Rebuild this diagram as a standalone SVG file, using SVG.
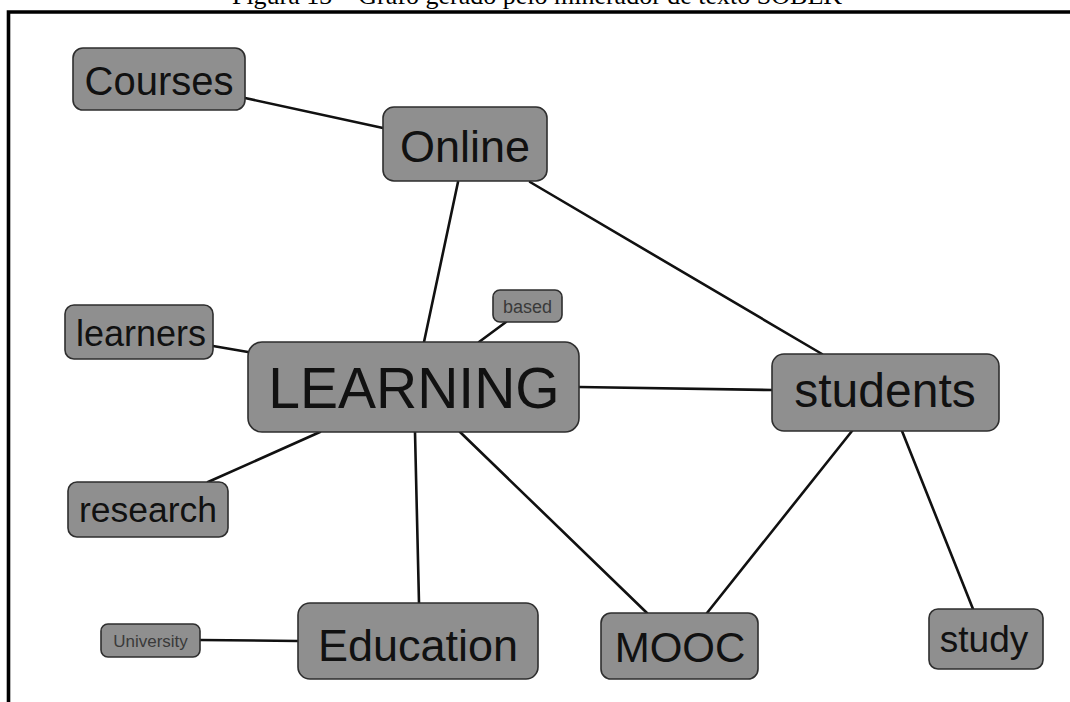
<svg xmlns="http://www.w3.org/2000/svg" width="1070" height="702" viewBox="0 0 1070 702">
  <style>
    .box { fill: #8f8f8f; stroke: #2e2e2e; stroke-width: 1.6; }
    .lbl { font-family: "Liberation Sans", Arial, sans-serif; fill: #111; text-anchor: middle; }
    .sm { fill: #3a3a3a; }
    .edge { stroke: #111; stroke-width: 2.6; fill: none; stroke-linecap: round; }
    .frame { stroke: #000; stroke-width: 3.6; fill: none; }
    .cap { font-family: "Liberation Serif", "Times New Roman", serif; font-size: 26px; fill: #000; text-anchor: middle; }
  </style>
  <rect x="0" y="0" width="1070" height="702" fill="#fff"/>

  <!-- figure caption, partly above the page edge -->
  <text class="cap" x="537" y="4">Figura 13 – Grafo gerado pelo minerador de texto SOBEK</text>

  <!-- frame -->
  <path class="frame" d="M8.5 702 V12 H1072"/>

  <!-- connectors -->
  <g id="connectors">
    <line class="edge" x1="245" y1="98" x2="383" y2="128"/>
    <line class="edge" x1="458" y1="182" x2="424" y2="342"/>
    <line class="edge" x1="530" y1="182" x2="822" y2="354"/>
    <line class="edge" x1="213" y1="346" x2="248" y2="352"/>
    <line class="edge" x1="506" y1="322" x2="479" y2="342"/>
    <line class="edge" x1="579" y1="387" x2="772" y2="390"/>
    <line class="edge" x1="320" y1="432" x2="208" y2="482"/>
    <line class="edge" x1="415" y1="432" x2="419" y2="603"/>
    <line class="edge" x1="460" y1="432" x2="647" y2="613"/>
    <line class="edge" x1="852" y1="431" x2="707" y2="613"/>
    <line class="edge" x1="902" y1="431" x2="973" y2="609"/>
    <line class="edge" x1="200" y1="640" x2="298" y2="641"/>
  </g>

  <!-- nodes -->
  <g id="node-courses">
    <rect class="box" x="73" y="48" width="172" height="62" rx="10"/>
    <text class="lbl" x="159" y="95" font-size="40">Courses</text>
  </g>
  <g id="node-online">
    <rect class="box" x="383" y="107" width="164" height="74" rx="11"/>
    <text class="lbl" x="465" y="162" font-size="45">Online</text>
  </g>
  <g id="node-learners">
    <rect class="box" x="65" y="305" width="148" height="54" rx="9"/>
    <text class="lbl" x="141" y="346" font-size="36">learners</text>
  </g>
  <g id="node-based">
    <rect class="box" x="493" y="290" width="69" height="32" rx="7"/>
    <text class="lbl sm" x="527.5" y="313" font-size="18">based</text>
  </g>
  <g id="node-learning">
    <rect class="box" x="248" y="342" width="331" height="90" rx="14"/>
    <text class="lbl" x="414" y="408" font-size="57">LEARNING</text>
  </g>
  <g id="node-students">
    <rect class="box" x="772" y="354" width="227" height="77" rx="12"/>
    <text class="lbl" x="885" y="407" font-size="48">students</text>
  </g>
  <g id="node-research">
    <rect class="box" x="68" y="482" width="160" height="55" rx="9"/>
    <text class="lbl" x="148" y="522" font-size="35.5">research</text>
  </g>
  <g id="node-university">
    <rect class="box" x="101" y="624" width="99" height="33" rx="7"/>
    <text class="lbl sm" x="150.5" y="647" font-size="17">University</text>
  </g>
  <g id="node-education">
    <rect class="box" x="298" y="603" width="240" height="76" rx="12"/>
    <text class="lbl" x="418" y="661" font-size="45">Education</text>
  </g>
  <g id="node-mooc">
    <rect class="box" x="601" y="613" width="157" height="66" rx="10"/>
    <text class="lbl" x="680" y="662" font-size="42">MOOC</text>
  </g>
  <g id="node-study">
    <rect class="box" x="929" y="609" width="114" height="60" rx="9"/>
    <text class="lbl" x="984" y="652" font-size="37">study</text>
  </g>
</svg>
